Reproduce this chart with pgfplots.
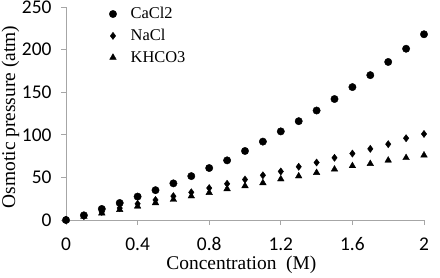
\documentclass[border=0pt]{standalone}
\usepackage{pgfplots}
\pgfplotsset{compat=1.18}
\usepackage{fontspec}
\setmainfont{Liberation Serif}
\newfontfamily\tickfont{Carlito}
\begin{document}
\begin{tikzpicture}
\begin{axis}[
  scale only axis,
  width=358bp, height=213bp,
  xmin=0, xmax=2, ymin=0, ymax=250,
  axis lines=left,
  axis line style={gray!70, line width=0.9bp, -},
  xtick={0,0.4,0.8,1.2,1.6,2},
  xticklabels={0,0.4,0.8,1.2,1.6,2},
  ytick={0,50,100,150,200,250},
  tick style={gray!70, line width=0.9bp},
  tick align=outside,
  major tick length=5bp,
  tick label style={font=\tickfont\fontsize{19.5}{21}\selectfont},
  /pgf/number format/assume math mode=true,
  xticklabel style={yshift=-9bp},
  yticklabel style={xshift=-6bp},
  xlabel={Concentration\ \ (M)},
  ylabel={Osmotic pressure (atm)},
  label style={font=\fontsize{19.5}{21}\selectfont},
  xlabel style={at={(axis description cs:0.49,-0.211)}, anchor=center},
  ylabel style={at={(axis description cs:-0.155,0.484)}, anchor=center},
  legend style={draw=none, fill=none, at={(0.112,1.017)}, anchor=north west,
    font=\fontsize{16.5}{18}\selectfont, row sep=5bp},
  legend cell align=left,
  clip=false,
]
\addplot[only marks, mark=*, mark size=3.7bp, black] coordinates {
(0,0)(0.1,5.5)(0.2,13)(0.3,20)(0.4,27.5)(0.5,35)(0.6,43)(0.7,51.5)(0.8,61)(0.9,70)
(1.0,81)(1.1,92)(1.2,104)(1.3,116)(1.4,128.5)(1.5,142)(1.6,156)(1.7,170)(1.8,185.5)(1.9,201)(2.0,218)};
\addlegendentry{\hspace{12bp}CaCl2}
\addplot[only marks, mark=diamond*, mark size=3.6bp, black] coordinates {
(0,0)(0.1,4.5)(0.2,9.5)(0.3,14)(0.4,19)(0.5,23.5)(0.6,28)(0.7,32.5)(0.8,37.5)(0.9,42.5)
(1.0,47.5)(1.1,52.5)(1.2,57)(1.3,62.5)(1.4,67.5)(1.5,73)(1.6,78)(1.7,83.5)(1.8,89)(1.9,96)(2.0,101)};
\addlegendentry{\hspace{12bp}NaCl}
\addplot[only marks, mark=triangle*, mark size=3.8bp, black] coordinates {
(0,0)(0.1,4)(0.2,8)(0.3,12)(0.4,16)(0.5,20)(0.6,24)(0.7,28)(0.8,32)(0.9,36.5)
(1.0,40)(1.1,43.5)(1.2,48)(1.3,51.5)(1.4,55.5)(1.5,59.5)(1.6,63.5)(1.7,66)(1.8,70)(1.9,73)(2.0,76)};
\addlegendentry{\hspace{12bp}KHCO3}
\end{axis}
\pgfresetboundingbox
\useasboundingbox (-66bp,-58bp) rectangle (374bp,220bp);
\end{tikzpicture}
\end{document}
